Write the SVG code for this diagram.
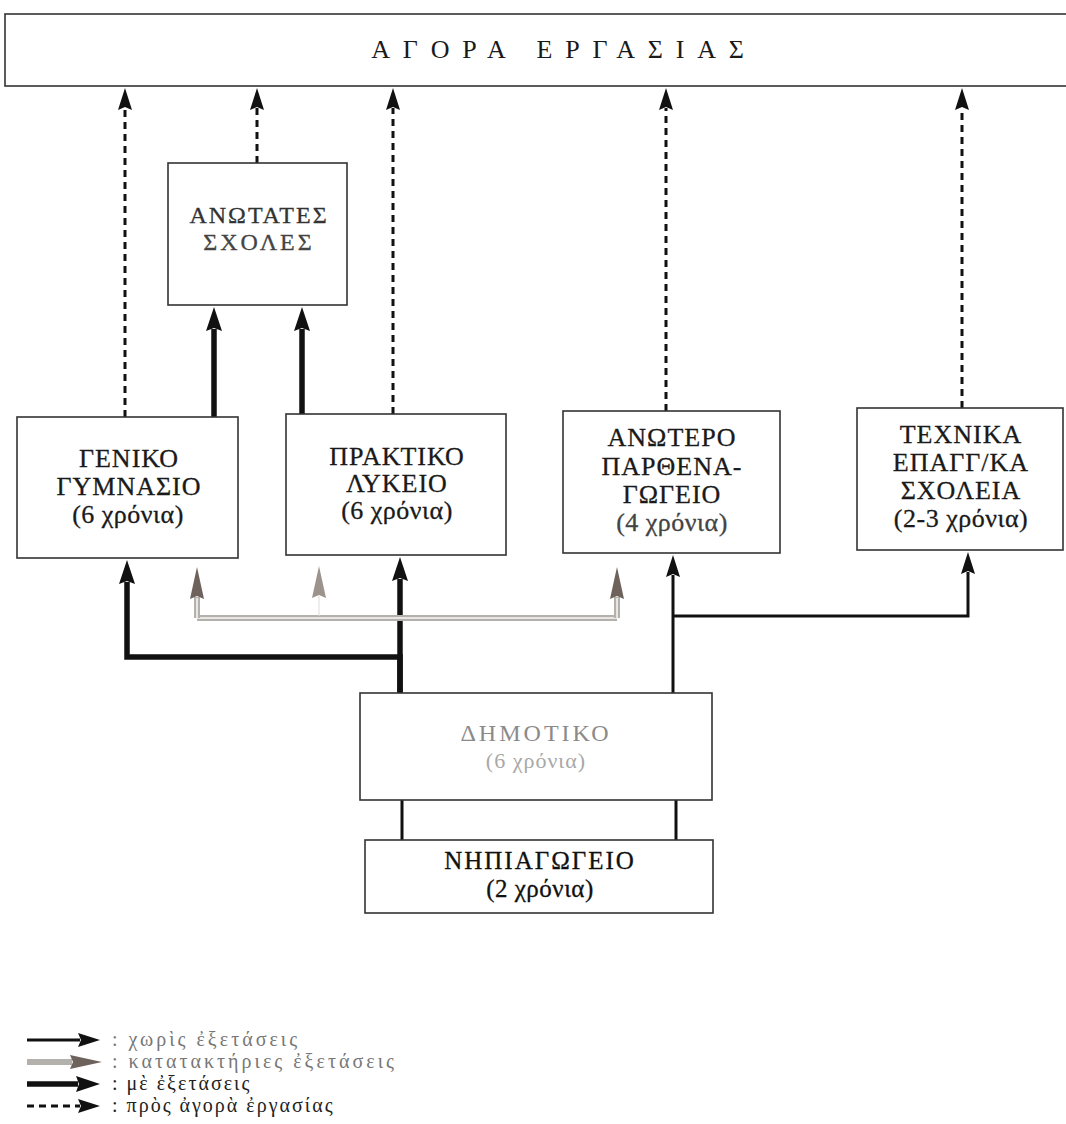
<svg xmlns="http://www.w3.org/2000/svg" width="1066" height="1124" viewBox="0 0 1066 1124">
<style>
.box{fill:#fff;stroke:#333;stroke-width:1.6}
.t{font-family:"Liberation Serif","Times New Roman",serif;font-size:26px;letter-spacing:1px;fill:#1a1a1a;stroke:#1a1a1a;stroke-width:0.3;text-anchor:middle}
.sub{letter-spacing:0.5px}
.dash{fill:none;stroke:#111;stroke-width:3;stroke-dasharray:7 5}
.thick{fill:none;stroke:#111;stroke-width:5.5}
.thin{fill:none;stroke:#111;stroke-width:3}
.grey{fill:none;stroke:#b4b0ac;stroke-width:6}
.greyin{fill:none;stroke:#e8e6e4;stroke-width:2}
.leg{font-family:"Liberation Serif","Times New Roman",serif;font-size:20px;letter-spacing:2px;fill:#222}
</style>
<defs>
<marker id="h" markerUnits="userSpaceOnUse" viewBox="0 0 22 14" markerWidth="22" markerHeight="14" refX="2" refY="7" orient="auto">
<path d="M0,0 L22,7 L0,14 L3,7 z" fill="#111"/>
</marker>
<marker id="hb" markerUnits="userSpaceOnUse" viewBox="0 0 24 16" markerWidth="24" markerHeight="16" refX="2" refY="8" orient="auto">
<path d="M0,0 L24,8 L0,16 L3,8 z" fill="#111"/>
</marker>
<marker id="hg" markerUnits="userSpaceOnUse" viewBox="0 0 32 14" markerWidth="32" markerHeight="14" refX="2" refY="7" orient="auto">
<path d="M0,0 L32,7 L0,14 L3,7 z" fill="#6e625c"/>
</marker>
<marker id="hgl" markerUnits="userSpaceOnUse" viewBox="0 0 32 14" markerWidth="32" markerHeight="14" refX="2" refY="7" orient="auto">
<path d="M0,0 L32,7 L0,14 L3,7 z" fill="#9c948c"/>
</marker>
</defs>

<g id="connectors">
<path class="dash" d="M125,417 V108" marker-end="url(#h)"/>
<path class="dash" d="M257,163 V108" marker-end="url(#h)"/>
<path class="dash" d="M393,414 V108" marker-end="url(#h)"/>
<path class="dash" d="M666,411 V108" marker-end="url(#h)"/>
<path class="dash" d="M962,408 V108" marker-end="url(#h)"/>
<path class="thick" d="M214,417 V329" marker-end="url(#hb)"/>
<path class="thick" d="M302,414 V329" marker-end="url(#hb)"/>
<path class="thick" d="M400,693 V657 H127 V582" marker-end="url(#hb)"/>
<path class="thick" d="M400,693 V579" marker-end="url(#hb)"/>
<path class="thin" d="M673,693 V575" marker-end="url(#h)"/>
<path class="thin" d="M673,616 H968 V572" marker-end="url(#h)"/>
<path class="grey" d="M197,618 H617"/>
<path class="greyin" d="M197,618 H617"/>
<path class="grey" d="M197,618 V597" marker-end="url(#hg)"/>
<path class="grey" d="M617,618 V597" marker-end="url(#hg)"/>
<path class="greyin" d="M197,618 V598"/>
<path class="greyin" d="M617,618 V598"/>
<path fill="none" stroke="#e0dcd8" stroke-width="1" d="M319,616 V596" marker-end="url(#hgl)"/>
<path class="thin" d="M402,800 V840"/>
<path class="thin" d="M676,800 V840"/>
</g>

<g id="agora">
<rect class="box" x="5" y="14" width="1070" height="72"/>
<text x="564" y="58" font-family="Liberation Serif, serif" font-size="26" letter-spacing="12.8" fill="#1a1a1a" text-anchor="middle">ΑΓΟΡΑ  ΕΡΓΑΣΙΑΣ</text>
</g>

<g id="anotates">
<rect class="box" x="168" y="163" width="179" height="142"/>
<text class="t" x="259" y="223" style="fill:#333;stroke:#333;font-size:24px;letter-spacing:2px">ΑΝΩΤΑΤΕΣ</text>
<text class="t" x="259" y="250" style="fill:#444;stroke:#444;font-size:24px;letter-spacing:3px">ΣΧΟΛΕΣ</text>
</g>

<g id="geniko">
<rect class="box" x="17" y="417" width="221" height="141"/>
<text class="t" x="129" y="467">ΓΕΝΙΚΟ</text>
<text class="t" x="129" y="495">ΓΥΜΝΑΣΙΟ</text>
<text class="t sub" x="128" y="523">(6 χρόνια)</text>
</g>

<g id="praktiko">
<rect class="box" x="286" y="414" width="220" height="141"/>
<text class="t" x="397" y="465">ΠΡΑΚΤΙΚΟ</text>
<text class="t" x="397" y="492">ΛΥΚΕΙΟ</text>
<text class="t sub" x="397" y="519">(6 χρόνια)</text>
</g>

<g id="anotero">
<rect class="box" x="563" y="411" width="217" height="142"/>
<text class="t" x="672" y="446">ΑΝΩΤΕΡΟ</text>
<text class="t" x="672" y="475">ΠΑΡΘΕΝΑ-</text>
<text class="t" x="672" y="503">ΓΩΓΕΙΟ</text>
<text class="t sub" x="672" y="531" style="fill:#444;stroke:#444">(4 χρόνια)</text>
</g>

<g id="texnika">
<rect class="box" x="857" y="408" width="206" height="142"/>
<text class="t" x="961" y="443">ΤΕΧΝΙΚΑ</text>
<text class="t" x="961" y="471">ΕΠΑΓΓ/ΚΑ</text>
<text class="t" x="961" y="499">ΣΧΟΛΕΙΑ</text>
<text class="t sub" x="961" y="527">(2-3 χρόνια)</text>
</g>

<g id="dimotiko">
<rect class="box" x="360" y="693" width="352" height="107"/>
<text class="t" x="536" y="741" style="fill:#8a8a8a;stroke:none;font-size:24px;letter-spacing:3px">ΔΗΜΟΤΙΚΟ</text>
<text class="t" x="536" y="768" style="fill:#a8a8a8;stroke:none;font-size:22px;letter-spacing:1px">(6 χρόνια)</text>
</g>

<g id="nipiagogeio">
<rect class="box" x="365" y="840" width="348" height="73"/>
<text class="t" x="540" y="869" style="fill:#111;stroke:#111;font-size:25px;letter-spacing:2px">ΝΗΠΙΑΓΩΓΕΙΟ</text>
<text class="t" x="540" y="897" style="fill:#111;stroke:#111;font-size:25px;letter-spacing:0.5px">(2 χρόνια)</text>
</g>

<g id="legend">
<path class="thin" d="M27,1040 H80" marker-end="url(#h)"/>
<text class="leg" x="112" y="1046" style="fill:#777;letter-spacing:3px">: χωρὶς ἐξετάσεις</text>
<path class="grey" stroke-width="4" d="M27,1062 H72" marker-end="url(#hg)"/>
<text class="leg" x="112" y="1068" style="fill:#777;letter-spacing:3px">: κατατακτήριες ἐξετάσεις</text>
<path class="thick" d="M27,1084 H78" marker-end="url(#hb)"/>
<text class="leg" x="112" y="1090">: μὲ ἐξετάσεις</text>
<path class="dash" d="M27,1106 H80" marker-end="url(#h)"/>
<text class="leg" x="112" y="1112">: πρὸς ἀγορὰ ἐργασίας</text>
</g>
</svg>
